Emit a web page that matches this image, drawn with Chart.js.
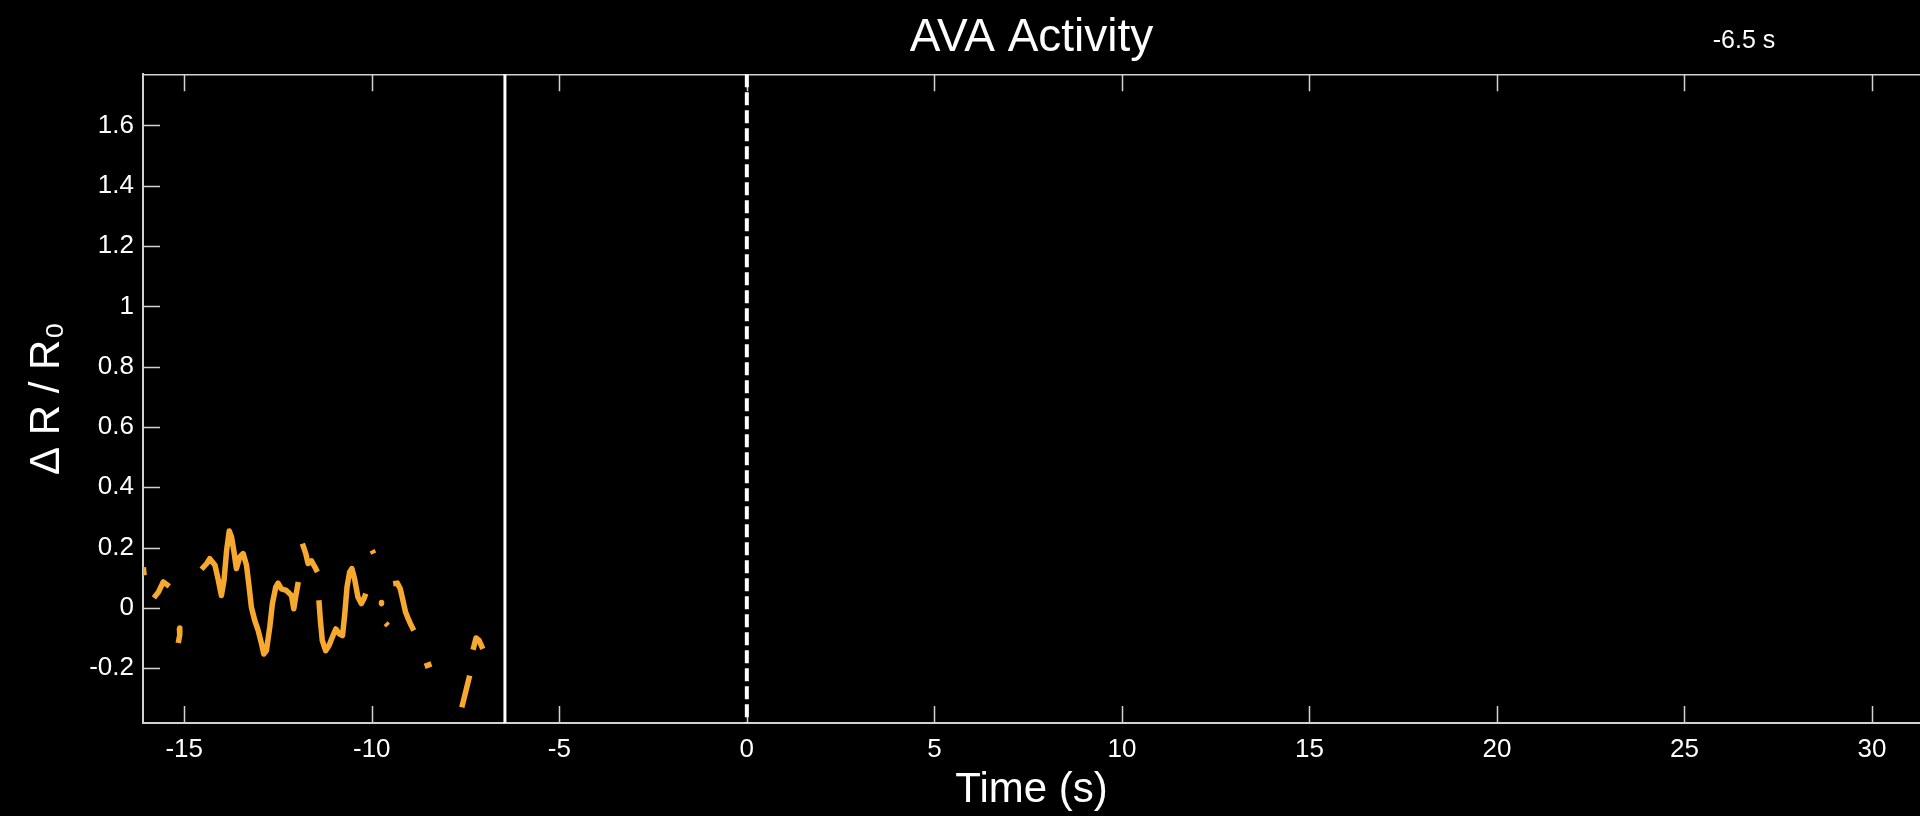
<!DOCTYPE html>
<html>
<head>
<meta charset="utf-8">
<title>AVA Activity</title>
<script src="https://cdn.jsdelivr.net/npm/chart.js@4.4.0/dist/chart.umd.min.js"></script>
<style>
    html, body { margin: 0; padding: 0; background: #000; overflow: hidden; }
    #wrap { width: 1920px; height: 816px; }
</style>
</head>
<body>
<div id="wrap"><canvas id="avaChart" width="1920" height="816"></canvas></div>
<script>
// Trace time (s); a null value in dRR0 breaks the trace
const timeS = [
    -16.09, -16.07, -15.95,
    -15.81, -15.69, -15.56, -15.40, -15.27,
    -15.13, -15.12, -15.16, -14.80,
    -14.54, -14.40, -14.32, -14.18, -14.09, -14.01, -13.94, -13.87, -13.80, -13.74,
    -13.68, -13.61, -13.52, -13.43, -13.34, -13.27, -13.21, -13.12, -13.03, -12.94,
    -12.88, -12.81, -12.72, -12.65, -12.56, -12.50, -12.41, -12.28, -12.14, -12.08,
    -12.03, -11.96, -11.90,
    -11.85, -11.76, -11.70, -11.61, -11.52, -11.45, -11.43,
    -11.41, -11.37, -11.32, -11.23, -11.14, -11.05, -10.96, -10.87, -10.78, -10.72,
    -10.66, -10.59, -10.53, -10.46, -10.37, -10.28, -10.21, -10.16, -10.08,
    -9.99, -9.95, -9.85,
    -9.75, -9.74, -9.69,
    -9.63, -9.57, -9.50,
    -9.43, -9.32, -9.24, -9.17, -9.10, -9.03, -8.95, -8.88, -8.70,
    -8.59, -8.41, -8.00,
    -7.60, -7.39, -7.35,
    -7.30, -7.22, -7.14, -7.04
];
const dRR0 = [
    0.135, 0.108, null,
    0.033, 0.052, 0.086, 0.071, null,
    -0.067, -0.090, -0.117, null,
    0.128, 0.147, 0.163, 0.141, 0.091, 0.041, 0.091, 0.191, 0.255, 0.235,
    0.191, 0.130, 0.169, 0.180, 0.141, 0.069, 0.002, -0.042, -0.075, -0.119,
    -0.153, -0.142, -0.064, 0.014, 0.069, 0.082, 0.063, 0.058, 0.041, -0.003,
    0.036, 0.086, null,
    0.213, 0.180, 0.147, 0.156, 0.136, 0.119, null,
    0.025, -0.042, -0.108, -0.142, -0.125, -0.097, -0.070, -0.086, -0.092, -0.020,
    0.069, 0.119, 0.130, 0.097, 0.036, 0.014, 0.030, 0.047, null,
    0.191, 0.180, null,
    0.018, 0.014, null,
    -0.051, -0.059, null,
    0.080, 0.082, 0.063, 0.025, -0.014, -0.036, -0.058, -0.075, null,
    -0.194, -0.186, null,
    -0.330, -0.225, null,
    -0.139, -0.100, -0.108, -0.136
];

// Axis ranges and ticks
const xRange = [-16.1, 31.28];
const yRange = [-0.382, 1.77];
const xStep = 5;
const yStep = 0.2;

// Marker lines: current time (solid) and event onset (dashed)
const currentTime = -6.45;
const onsetTime = 0;
const timeLabel = '-6.5 s';

const FONT = '"Liberation Sans", Arial, Helvetica, sans-serif';
const axisGray = '#d2d2d2';

const tracePoints = timeS.map((t, i) => ({ x: t, y: dRR0[i] }));
const vline = t => [{ x: t, y: yRange[1] }, { x: t, y: yRange[0] }];

// MATLAB-style box: inward ticks, top edge, time stamp
const matlabFrame = {
    id: 'matlabFrame',
    beforeDatasetsDraw(chart) {
        const { ctx, chartArea: a, scales: { x, y } } = chart;
        ctx.save();
        ctx.strokeStyle = axisGray;
        ctx.lineWidth = 1.5;
        ctx.beginPath();
        ctx.moveTo(a.left, a.top + 0.5);
        ctx.lineTo(a.right, a.top + 0.5);
        x.ticks.forEach(t => {
            const px = Math.round(x.getPixelForValue(t.value)) + 0.5;
            ctx.moveTo(px, a.bottom);
            ctx.lineTo(px, a.bottom - 17);
            ctx.moveTo(px, a.top);
            ctx.lineTo(px, a.top + 17);
        });
        y.ticks.forEach(t => {
            const py = Math.round(y.getPixelForValue(t.value)) + 0.5;
            ctx.moveTo(a.left, py);
            ctx.lineTo(a.left + 17, py);
        });
        ctx.stroke();
        ctx.restore();
    },
    afterDraw(chart) {
        const ctx = chart.ctx;
        ctx.save();
        ctx.fillStyle = '#fff';
        ctx.font = '25px ' + FONT;
        ctx.textAlign = 'center';
        ctx.textBaseline = 'middle';
        ctx.fillText(timeLabel, 1744, 41);
        ctx.restore();
    }
};

new Chart(document.getElementById('avaChart'), {
    type: 'line',
    data: {
        datasets: [
            {
                data: tracePoints,
                borderColor: '#f7a82f',
                borderWidth: 5.5,
                borderJoinStyle: 'round',
                pointRadius: 0,
                tension: 0,
                spanGaps: false
            },
            {
                data: vline(currentTime),
                borderColor: '#ffffff',
                borderWidth: 3,
                pointRadius: 0
            },
            {
                data: vline(onsetTime),
                borderColor: '#ffffff',
                borderWidth: 4,
                borderDash: [13, 5],
                pointRadius: 0
            }
        ]
    },
    options: {
        responsive: false,
        animation: false,
        devicePixelRatio: 1,
        layout: { padding: 0 },
        plugins: {
            legend: { display: false },
            tooltip: { enabled: false },
            title: {
                display: true,
                text: 'AVA Activity',
                color: '#fff',
                fullSize: false,
                font: { family: FONT, size: 46, weight: 'normal', lineHeight: 1.2 },
                padding: { top: 11, bottom: 8 }
            }
        },
        scales: {
            x: {
                type: 'linear',
                min: xRange[0],
                max: xRange[1],
                afterFit: s => { s.height = 93; },
                border: { display: true, color: axisGray, width: 2 },
                grid: { drawOnChartArea: false, drawTicks: false },
                ticks: {
                    stepSize: xStep,
                    includeBounds: false,
                    color: '#fff',
                    padding: 11,
                    maxRotation: 0,
                    font: { family: FONT, size: 26 }
                },
                title: {
                    display: true,
                    text: 'Time (s)',
                    color: '#fff',
                    font: { family: FONT, size: 42 },
                    padding: { top: 0, bottom: 0 }
                }
            },
            y: {
                type: 'linear',
                min: yRange[0],
                max: yRange[1],
                afterFit: s => { s.width = 143; },
                border: { display: true, color: axisGray, width: 2 },
                grid: { drawOnChartArea: false, drawTicks: false },
                ticks: {
                    stepSize: yStep,
                    includeBounds: false,
                    color: '#fff',
                    padding: 9,
                    font: { family: FONT, size: 26 },
                    callback: v => String(Math.round(v * 10) / 10)
                },
                title: {
                    display: true,
                    text: 'Δ R / R₀',
                    color: '#fff',
                    font: { family: FONT, size: 42 },
                    padding: { top: 22, bottom: 0 }
                }
            }
        }
    },
    plugins: [matlabFrame]
});
</script>
</body>
</html>
